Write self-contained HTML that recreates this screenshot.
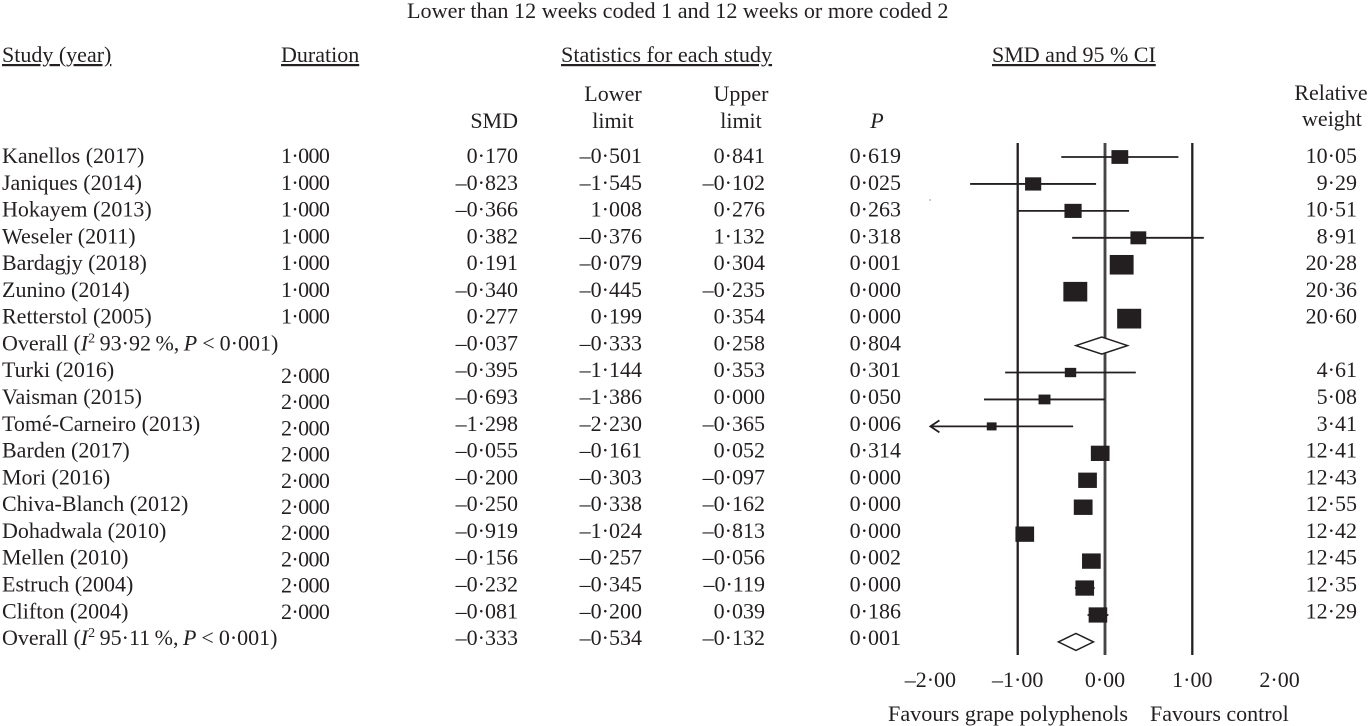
<!DOCTYPE html>
<html lang="en">
<head>
<meta charset="utf-8">
<title>Forest plot: grape polyphenols by duration</title>
<style>
html,body{margin:0;padding:0;background:#fff;}
#chart{display:block;width:1369px;height:726px;}
text{font-family:"Liberation Serif",serif;font-size:22px;fill:#231f20;}
text.wide{font-size:22.17px;}
</style>
</head>
<body>
<svg id="chart" xmlns="http://www.w3.org/2000/svg" width="1369" height="726" viewBox="0 0 1369 726">
  <text class="wide" x="407" y="18">Lower than 12 weeks coded 1 and 12 weeks or more coded 2</text>
  <text x="2" y="62" text-decoration="underline">Study (year)</text>
  <text x="281" y="62" text-decoration="underline">Duration</text>
  <text class="wide" x="561" y="62" text-decoration="underline">Statistics for each study</text>
  <text x="992" y="62" text-decoration="underline">SMD and 95 % CI</text>
  <text x="518" y="128" text-anchor="end">SMD</text>
  <text x="613" y="101" text-anchor="middle">Lower</text>
  <text x="613" y="128" text-anchor="middle">limit</text>
  <text x="741" y="101" text-anchor="middle">Upper</text>
  <text x="741" y="128" text-anchor="middle">limit</text>
  <text x="877" y="128" text-anchor="middle" font-style="italic">P</text>
  <text x="1331" y="100" text-anchor="middle">Relative</text>
  <text x="1332" y="126" text-anchor="middle">weight</text>
  <text class="wide" x="888" y="721">Favours grape polyphenols</text>
  <text x="1150" y="721">Favours control</text>
  <rect x="929" y="199" width="2" height="2" fill="#ccc"/>
  <g id="guides"></g>
  <g id="marks"></g>
  <g id="table"></g>
  <g id="axis"></g>
</svg>
<script>
const studies = [
  'Kanellos (2017)','Janiques (2014)','Hokayem (2013)','Weseler (2011)','Bardagjy (2018)','Zunino (2014)','Retterstol (2005)',
  'Overall (<tspan font-style="italic">I</tspan><tspan dy="-8" font-size="14">2</tspan><tspan dy="8" word-spacing="-1"> 93·92 %, </tspan><tspan font-style="italic">P</tspan><tspan word-spacing="-0.5"> &lt; 0·001)</tspan>',
  'Turki (2016)','Vaisman (2015)','Tomé-Carneiro (2013)','Barden (2017)','Mori (2016)','Chiva-Blanch (2012)','Dohadwala (2010)','Mellen (2010)','Estruch (2004)','Clifton (2004)',
  'Overall (<tspan font-style="italic">I</tspan><tspan dy="-8" font-size="14">2</tspan><tspan dy="8" word-spacing="-1"> 95·11 %, </tspan><tspan font-style="italic">P</tspan><tspan word-spacing="-0.5"> &lt; 0·001)</tspan>'
];
const durations = [1,1,1,1,1,1,1,null,2,2,2,2,2,2,2,2,2,2,null];
const smd = [0.170,-0.823,-0.366,0.382,0.191,-0.340,0.277,-0.037,-0.395,-0.693,-1.298,-0.055,-0.200,-0.250,-0.919,-0.156,-0.232,-0.081,-0.333];
const lower = [-0.501,-1.545,-1.008,-0.376,0.079,-0.445,0.199,-0.333,-1.144,-1.386,-2.230,-0.161,-0.303,-0.338,-1.024,-0.257,-0.345,-0.200,-0.534];
const upper = [0.841,-0.102,0.276,1.132,0.304,-0.235,0.354,0.258,0.353,0.000,-0.365,0.052,-0.097,-0.162,-0.813,-0.056,-0.119,0.039,-0.132];
const pValues = [0.619,0.025,0.263,0.318,0.001,0.000,0.000,0.804,0.301,0.050,0.006,0.314,0.000,0.000,0.000,0.002,0.000,0.186,0.001];
const weights = [10.05,9.29,10.51,8.91,20.28,20.36,20.60,null,4.61,5.08,3.41,12.41,12.43,12.55,12.42,12.45,12.35,12.29,null];
const printedLowerOverrides = {2:'1·008', 4:'–0·079'};
const axisTicks = [-2,-1,0,1,2];
const referenceLines = [-1,0,1];

const NS = 'http://www.w3.org/2000/svg';
const xScale = v => 1105 + v * 87.3;
const markY = i => 157 + i * 26.94;
const textY = i => 163 + i * 26.78;
const durationY = i => i < 8 ? textY(i) : 383 + (i - 8) * 26.2;
const fmt = (v, d) => (v < 0 ? '–' : '') + Math.abs(v).toFixed(d).replace('.', '·');
const axisMin = axisTicks[0];

function make(parent, tag, attrs) {
  const e = document.createElementNS(NS, tag);
  for (const k in attrs) e.setAttribute(k, attrs[k]);
  parent.appendChild(e);
  return e;
}
function cell(parent, x, y, anchor, str) {
  const e = make(parent, 'text', {x: x, y: y, 'text-anchor': anchor});
  e.innerHTML = str;
  return e;
}

const guides = document.getElementById('guides');
const marks = document.getElementById('marks');
const table = document.getElementById('table');
const axis = document.getElementById('axis');

referenceLines.forEach(v => {
  if (v === 0) {
    const halo = make(guides, 'line', {x1: xScale(v), x2: xScale(v), y1: 143, y2: 655, stroke: '#8a8a8a', 'stroke-width': 3.4});
    
    
  }
  const line = make(guides, 'line', {x1: xScale(v), x2: xScale(v), y1: 143, y2: 655, stroke: '#231f20', 'stroke-width': v === 0 ? 1.3 : 2.3});
  
  
});

smd.forEach((v, i) => {
  const y = markY(i);
  if (weights[i] === null) {
    const cx = xScale(v), h = 8.5;
    const d = make(marks, 'polygon', {
      points: [[xScale(lower[i]), y], [cx, y - h], [xScale(upper[i]), y], [cx, y + h]].map(p => p.join(',')).join(' '),
      fill: '#fff', stroke: '#231f20', 'stroke-width': 1.5
    });
    
    
    return;
  }
  const clipped = lower[i] < axisMin;
  const x1 = xScale(clipped ? axisMin : lower[i]);
  const ci = make(marks, 'line', {x1: x1, x2: xScale(upper[i]), y1: y, y2: y, stroke: '#231f20', 'stroke-width': 1.8});
  
  
  if (clipped) {
    const arrow = make(marks, 'polyline', {points: `${x1 + 9},${y - 6} ${x1},${y} ${x1 + 9},${y + 6}`, fill: 'none', stroke: '#231f20', 'stroke-width': 1.8});
    
    
  }
  const w = 5.3 * Math.sqrt(weights[i]), h = w * 0.82;
  const sq = make(marks, 'rect', {x: xScale(v) - w / 2, y: y - h / 2, width: w, height: h, fill: '#231f20'});
  
  
});

studies.forEach((name, i) => {
  const y = textY(i);
  const s = cell(table, 2, y, 'start', name);
  
  
  if (durations[i] !== null) {
    const d = cell(table, 281, durationY(i), 'start', fmt(durations[i], 3));
    d.setAttribute('letter-spacing', '-0.6');
    
    
  }
  const a = cell(table, 518, y, 'end', fmt(smd[i], 3));
  
  
  const b = cell(table, 642, y, 'end', printedLowerOverrides[i] || fmt(lower[i], 3));
  
  
  const c = cell(table, 765, y, 'end', fmt(upper[i], 3));
  
  
  const p = cell(table, 901, y, 'end', fmt(pValues[i], 3));
  
  
  if (weights[i] !== null) {
    const w = cell(table, 1357, y, 'end', fmt(weights[i], 2));
    
    
  }
});

axisTicks.forEach(t => {
  const e = cell(axis, xScale(t), 687, 'middle', fmt(t, 2));
  
  
});
</script>
</body>
</html>
